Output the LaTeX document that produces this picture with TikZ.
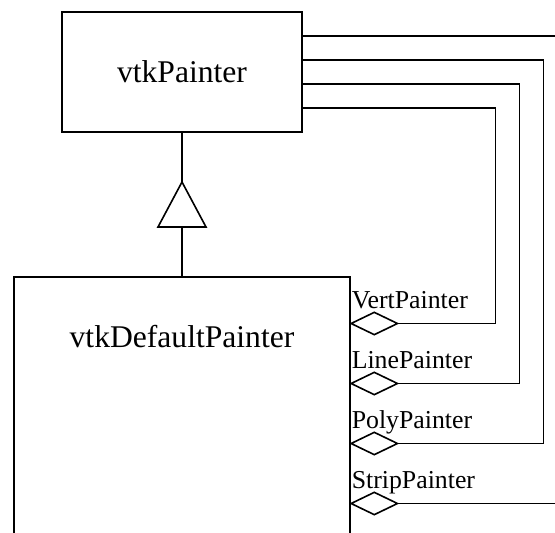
\documentclass[tikz,border=0pt]{standalone}
\usepackage{fontspec}
\setmainfont{Liberation Serif}
\usetikzlibrary{shapes.geometric}

\begin{document}
\begin{tikzpicture}[x=1pt, y=-1pt, line width=1.6pt,
    box/.style={draw, inner sep=0pt, font=\fontsize{31.6}{36}\selectfont},
    agg/.style={diamond, draw, fill=white, inner sep=0pt,
                minimum width=47pt, minimum height=23pt, anchor=west},
    role/.style={anchor=base west, inner sep=0pt,
                 font=\fontsize{25.8}{30}\selectfont}]

\useasboundingbox (0,0) rectangle (555,533);
\clip (0,0) rectangle (555,533);

% ── Clase base ────────────────────────────────────────────────
\node[box, minimum width=240pt, minimum height=120pt] (painter)
    at (182,72) {vtkPainter};

% ── Clase derivada (sigue por debajo del borde) ───────────────
\node[box, anchor=north, minimum width=336pt,
      text height=71pt, text depth=213pt] (default)
    at (182,276) {vtkDefaultPainter};

% ── Herencia: triángulo hueco ─────────────────────────────────
\coordinate (apex) at (182,182);
\coordinate (base) at (182,227);
\draw (painter.south) -- (apex);
\draw (apex) -- ([xshift=-24pt]base) -- ([xshift=24pt]base) -- cycle;
\draw (base) -- (default.north);

% ── Agregaciones (rombos) ─────────────────────────────────────
\node[agg] (vert)  at (350,323.5) {};
\node[agg] (line)  at (350,383.5) {};
\node[agg] (poly)  at (350,443.5) {};
\node[agg] (strip) at (350,503.5) {};

\node[role] (vertL)  at ([xshift=1pt, yshift=15pt]vert.west)  {VertPainter};
\node[role] (lineL)  at ([xshift=1pt, yshift=15pt]line.west)  {LinePainter};
\node[role] (polyL)  at ([xshift=1pt, yshift=15pt]poly.west)  {PolyPainter};
\node[role] (stripL) at ([xshift=1pt, yshift=15pt]strip.west) {StripPainter};

% ── Conexiones desde vtkPainter ───────────────────────────────
\draw ([yshift=-36pt]painter.east) -| ([xshift=97pt]vert.east)  -- (vert.east);
\draw ([yshift=-12pt]painter.east) -| ([xshift=121pt]line.east) -- (line.east);
\draw ([yshift=12pt]painter.east)  -| ([xshift=145pt]poly.east) -- (poly.east);
\draw ([yshift=36pt]painter.east)  -| ([xshift=169pt]strip.east) -- (strip.east);

\end{tikzpicture}
\end{document}
